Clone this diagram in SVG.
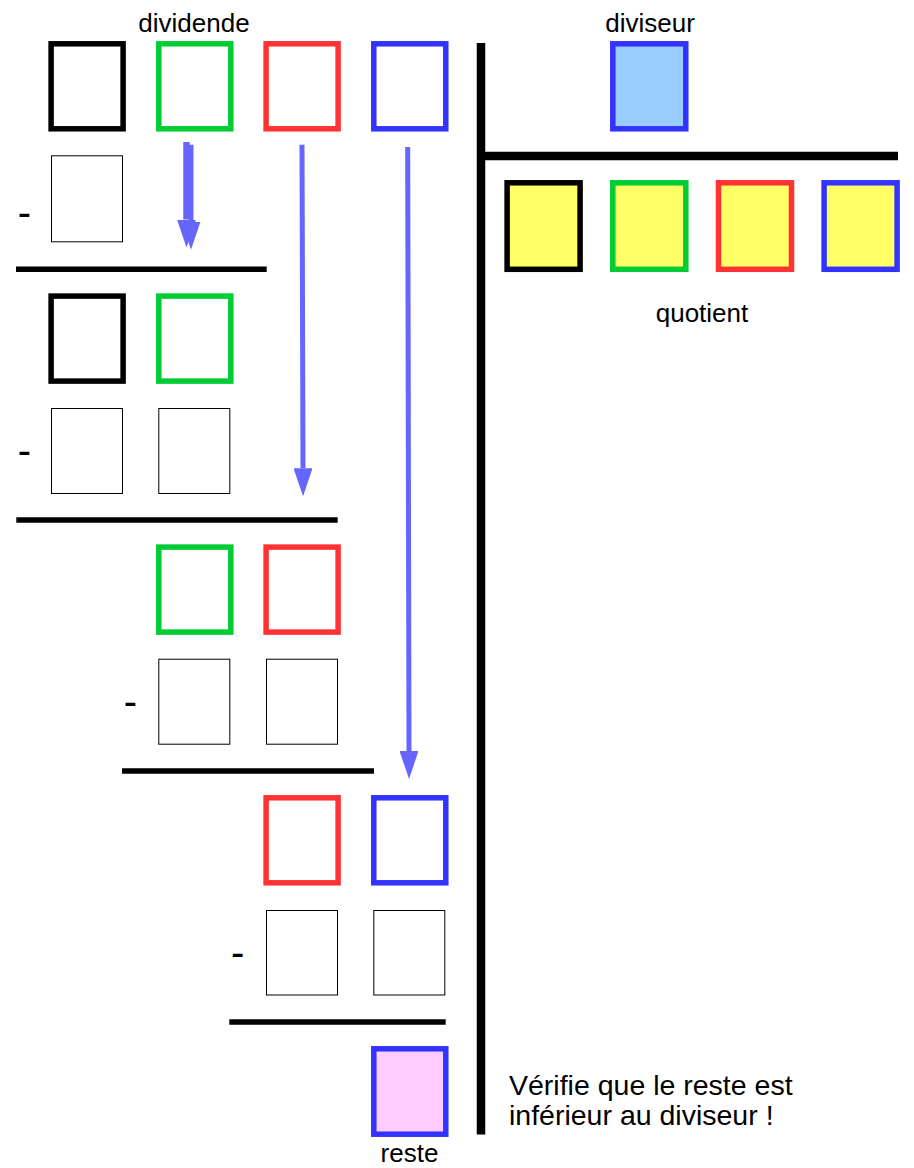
<svg xmlns="http://www.w3.org/2000/svg" width="914" height="1168" viewBox="0 0 914 1168">
<style>
  .lbl { font-family: "Liberation Sans", Arial, sans-serif; font-size: 26px; fill: #000; text-anchor: middle; }
  .note { font-family: "Liberation Sans", Arial, sans-serif; font-size: 28.5px; fill: #000; }
  .minus { font-family: "Liberation Sans", Arial, sans-serif; font-size: 40px; fill: #000; text-anchor: middle; }
  .box { stroke-width: 5.5; fill: #fff; }
  .k { stroke: #000; }
  .g { stroke: #00cc33; }
  .r { stroke: #ff3333; }
  .b { stroke: #3333ff; }
  .yel { fill: #ffff66; }
  .thin { fill: #fff; stroke: #000; stroke-width: 1; }
  .bar { stroke: #000; stroke-width: 5.5; }
  .div { stroke: #000; stroke-width: 8.5; }
  .arr { stroke: #6666ff; stroke-width: 5; fill: none; marker-end: url(#ah); }
</style>
<defs>
  <marker id="ah" markerUnits="userSpaceOnUse" markerWidth="28" markerHeight="19" viewBox="0 0 28 19" refX="0" refY="9.5" orient="auto">
    <path d="M0,0 L28,9.5 L0,19 Z" fill="#6666ff"/>
  </marker>
</defs>
<rect width="914" height="1168" fill="#fff"/>

<g id="division-lines">
  <line class="div" x1="481" y1="43" x2="481" y2="1134.5"/>
  <line class="div" x1="481" y1="156" x2="898" y2="156"/>
</g>

<g id="labels">
  <text class="lbl" x="194" y="32">dividende</text>
  <text class="lbl" x="650" y="32">diviseur</text>
  <text class="lbl" x="702" y="322">quotient</text>
  <text class="lbl" x="409.5" y="1162">reste</text>
  <text class="note" x="509" y="1095">Vérifie que le reste est</text>
  <text class="note" x="509" y="1125">inférieur au diviseur !</text>
</g>

<g id="dividende">
  <rect class="box k" x="51.1" y="43.8" width="72" height="85"/>
  <rect class="box g" x="158.8" y="43.8" width="72" height="85"/>
  <rect class="box r" x="266.1" y="43.8" width="72" height="85"/>
  <rect class="box b" x="373.8" y="43.8" width="72" height="85"/>
</g>

<g id="diviseur">
  <rect class="box b" x="612.8" y="43.8" width="73" height="85" style="fill:#99ccff"/>
</g>

<g id="quotient">
  <rect class="box k yel" x="507.1" y="182.8" width="73" height="86.5"/>
  <rect class="box g yel" x="612.8" y="182.8" width="73" height="86.5"/>
  <rect class="box r yel" x="718.5" y="182.8" width="73" height="86.5"/>
  <rect class="box b yel" x="824.1" y="182.8" width="73" height="86.5"/>
</g>

<g id="step1">
  <text class="minus" x="24.3" y="226.1">-</text>
  <rect class="thin" x="51.5" y="155.8" width="71" height="86"/>
  <line class="bar" x1="16" y1="269.3" x2="266.7" y2="269.3"/>
</g>

<g id="step2">
  <rect class="box k" x="51.1" y="296.1" width="72" height="85"/>
  <rect class="box g" x="158.8" y="296.1" width="72" height="85"/>
  <text class="minus" x="24.3" y="464.2">-</text>
  <rect class="thin" x="51.5" y="408.5" width="71" height="85"/>
  <rect class="thin" x="158.8" y="408.5" width="71" height="85"/>
  <line class="bar" x1="16.3" y1="520" x2="337.7" y2="520"/>
</g>

<g id="step3">
  <rect class="box g" x="158.8" y="547.1" width="72" height="85"/>
  <rect class="box r" x="266.1" y="547.1" width="72" height="85"/>
  <text class="minus" x="130.5" y="715.1">-</text>
  <rect class="thin" x="158.8" y="659.2" width="71" height="85"/>
  <rect class="thin" x="266.5" y="659.2" width="71" height="85"/>
  <line class="bar" x1="122" y1="771" x2="374" y2="771"/>
</g>

<g id="step4">
  <rect class="box r" x="266.1" y="797.8" width="72" height="85"/>
  <rect class="box b" x="373.8" y="797.8" width="72" height="85"/>
  <text class="minus" x="237.7" y="966.1">-</text>
  <rect class="thin" x="266.5" y="910.5" width="71" height="84.5"/>
  <rect class="thin" x="373.8" y="910.5" width="71" height="84.5"/>
  <line class="bar" x1="229.3" y1="1022" x2="445.7" y2="1022"/>
</g>

<g id="reste">
  <rect class="box b" x="373.8" y="1048.8" width="72" height="85.4" style="fill:#ffccff"/>
</g>

<g id="connectors">
  <line class="arr" x1="186.5" y1="142" x2="186.5" y2="219.5" style="stroke-width:6.5"/>
  <line class="arr" x1="191" y1="144.7" x2="191" y2="221.7" style="stroke-width:5"/>
  <line class="arr" x1="302" y1="144.7" x2="303" y2="468.3"/>
  <line class="arr" x1="407.7" y1="147" x2="409" y2="751"/>
</g>
</svg>
